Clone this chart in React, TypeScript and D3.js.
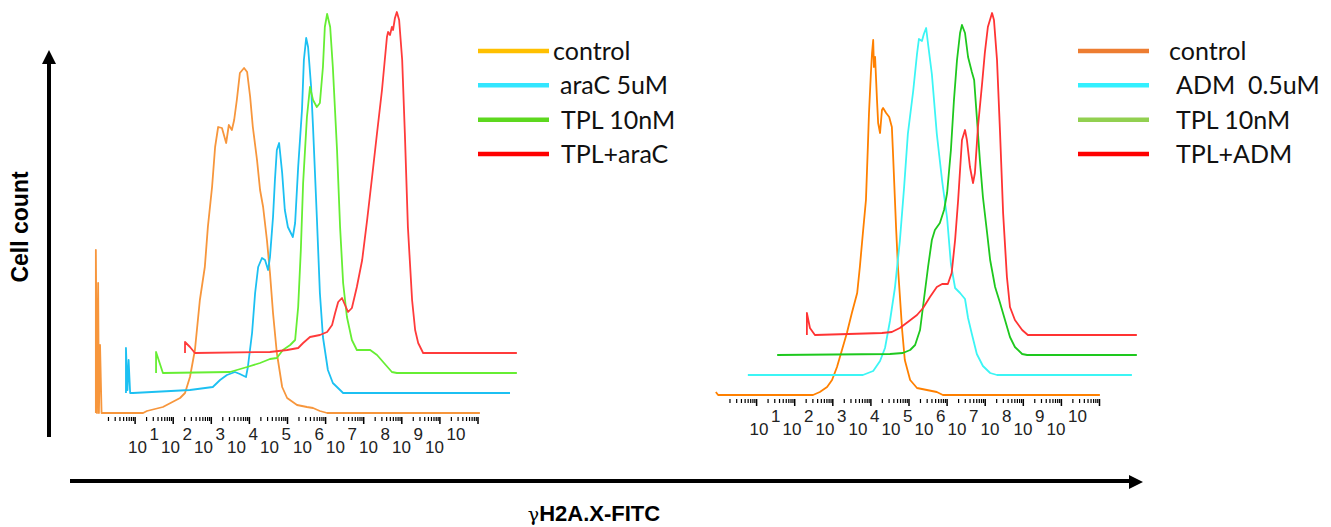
import * as d3 from 'd3'

// tick-label exponents for the log axis (10^1 ... 10^10)
const exponents = d3.range(1, 11)

const legendLeft = ['control', 'araC 5uM', 'TPL 10nM', 'TPL+araC']
const legendRight = ['control', 'ADM  0.5uM', 'TPL 10nM', 'TPL+ADM']

// points are [log10 intensity read on the axis, count above the curve's own baseline]
const araControl: [number, number][] = [
  [-0.03, 0], [-0.03, 163], [0.0, 0], [0.03, 130], [0.05, 0], [0.08, 68], [0.12, 0],
  [1.21, 0], [1.31, 2], [1.73, 6], [2.18, 15], [2.31, 20], [2.44, 36], [2.57, 63],
  [2.7, 113], [2.83, 146], [2.91, 186], [3.02, 226], [3.1, 266], [3.18, 286], [3.28, 285],
  [3.39, 270], [3.46, 288], [3.54, 283], [3.6, 293], [3.67, 313], [3.75, 340], [3.86, 345],
  [3.94, 341], [4.02, 316], [4.09, 286], [4.2, 253], [4.28, 223], [4.36, 206], [4.46, 173],
  [4.54, 140], [4.62, 100], [4.72, 60], [4.86, 26], [4.99, 15], [5.25, 8], [5.51, 6],
  [5.67, 5], [5.85, 2], [6.04, 0], [10.05, 0],
]
const araC5: [number, number][] = [
  [0.76, 0], [0.76, 45], [0.8, 3], [0.83, 33], [0.87, 0], [0.94, 0], [2.44, 3], [3.04, 6],
  [3.23, 13], [3.41, 18], [3.62, 21], [3.75, 19], [3.91, 16], [3.96, 26], [4.07, 60],
  [4.15, 100], [4.23, 126], [4.33, 135], [4.41, 133], [4.49, 123], [4.54, 136], [4.62, 176],
  [4.67, 213], [4.72, 243], [4.78, 250], [4.86, 220], [4.93, 183], [5.01, 166], [5.14, 156],
  [5.2, 170], [5.28, 226], [5.38, 283], [5.43, 333], [5.49, 355], [5.54, 346], [5.62, 306],
  [5.67, 266], [5.77, 176], [5.85, 100], [5.93, 56], [6.06, 23], [6.19, 10], [6.46, 0],
  [10.84, 0],
]
const araTpl: [number, number][] = [
  [1.55, 0], [1.55, 21], [1.73, 0], [3.49, 1], [3.94, 6], [4.28, 10], [4.54, 14], [4.72, 15],
  [4.88, 23], [5.07, 28], [5.2, 33], [5.28, 66], [5.35, 123], [5.41, 190], [5.51, 256],
  [5.59, 286], [5.67, 273], [5.77, 266], [5.85, 270], [5.93, 306], [5.98, 346], [6.04, 359],
  [6.12, 346], [6.19, 306], [6.3, 223], [6.38, 146], [6.46, 90], [6.56, 56], [6.69, 33],
  [6.82, 23], [7.17, 23], [7.35, 18], [7.51, 11], [7.74, 1], [7.87, 0], [11.02, 0],
]
const araTplAraC: [number, number][] = [
  [2.31, 0], [2.31, 11], [2.44, 6], [2.57, 0], [4.54, 1], [4.99, 3], [5.28, 5], [5.41, 10],
  [5.59, 16], [5.85, 18], [6.04, 21], [6.17, 28], [6.25, 40], [6.33, 51], [6.43, 55],
  [6.51, 48], [6.59, 41], [6.69, 45], [6.82, 66], [6.96, 93], [7.09, 133], [7.22, 176],
  [7.35, 220], [7.48, 263], [7.61, 316], [7.64, 321], [7.69, 318], [7.74, 326], [7.77, 323],
  [7.82, 335], [7.87, 341], [7.93, 333], [8.01, 293], [8.08, 220], [8.16, 126], [8.27, 53],
  [8.35, 23], [8.43, 10], [8.56, 0], [11.02, 0],
]

const admControl: [number, number][] = [
  [-0.07, 3], [-0.01, 0], [2.48, 0], [2.66, 3], [2.85, 8], [2.98, 15], [3.11, 28], [3.24, 45],
  [3.37, 62], [3.5, 82], [3.64, 102], [3.71, 128], [3.79, 162], [3.87, 195], [3.92, 248],
  [3.95, 282], [4.0, 322], [4.03, 342], [4.06, 355], [4.08, 328], [4.11, 338], [4.16, 295],
  [4.19, 272], [4.24, 262], [4.29, 285], [4.32, 287], [4.4, 282], [4.48, 278], [4.55, 268],
  [4.58, 242], [4.66, 168], [4.71, 128], [4.82, 65], [4.89, 35], [5.03, 15], [5.21, 7],
  [5.47, 5], [5.73, 3], [5.89, 0], [10.01, 0],
]
const adm05: [number, number][] = [
  [0.77, 0], [3.79, 0], [4.06, 4], [4.24, 14], [4.37, 27], [4.5, 54], [4.63, 87], [4.76, 134],
  [4.87, 187], [4.97, 241], [5.11, 284], [5.21, 321], [5.26, 336], [5.34, 334], [5.39, 341],
  [5.45, 347], [5.5, 331], [5.6, 301], [5.73, 241], [5.87, 194], [6.0, 157], [6.1, 111],
  [6.21, 87], [6.34, 82], [6.47, 76], [6.55, 57], [6.65, 41], [6.78, 21], [6.94, 9],
  [7.13, 2], [7.31, 0], [10.85, 0],
]
const admTpl: [number, number][] = [
  [1.54, 0], [4.5, 1], [4.84, 2], [5.03, 5], [5.16, 10], [5.29, 25], [5.39, 55], [5.5, 88],
  [5.6, 115], [5.68, 125], [5.81, 132], [5.92, 145], [6.0, 162], [6.1, 205], [6.18, 255],
  [6.26, 295], [6.34, 322], [6.39, 330], [6.47, 322], [6.55, 298], [6.65, 283], [6.71, 275],
  [6.78, 238], [6.86, 195], [6.94, 158], [7.05, 122], [7.13, 95], [7.26, 68], [7.39, 52],
  [7.52, 35], [7.65, 18], [7.78, 8], [7.97, 1], [8.1, 0], [10.98, 0],
]
const admTplAdm: [number, number][] = [
  [2.32, 0], [2.32, 22], [2.4, 7], [2.53, 0], [4.29, 2], [4.55, 3], [4.76, 7], [4.97, 13],
  [5.21, 20], [5.37, 27], [5.55, 38], [5.73, 48], [5.87, 51], [6.02, 51], [6.12, 62],
  [6.21, 95], [6.29, 135], [6.39, 195], [6.47, 205], [6.52, 195], [6.6, 168], [6.68, 152],
  [6.73, 162], [6.81, 208], [6.92, 252], [6.99, 282], [7.07, 308], [7.18, 322], [7.23, 315],
  [7.31, 275], [7.39, 202], [7.47, 122], [7.57, 58], [7.65, 28], [7.78, 15], [7.97, 5],
  [8.12, 0], [10.98, 0],
]

const DECADE = 38.1
const OFFSET_Y = 20

type Pt = [number, number]

function Histos({ x0, base, series, colors }: { x0: number; base: number; series: Pt[][]; colors: string[] }) {
  const x = d3.scaleLog().domain([1, 1e10]).range([x0, x0 + DECADE * 10])
  return (
    <g>
      {series.map((pts, i) => {
        const y = d3.scaleLinear().domain([0, 400]).range([base - i * OFFSET_Y, base - i * OFFSET_Y - 400])
        const line = d3.line<Pt>().x((d) => x(10 ** d[0])).y((d) => y(d[1]))
        return <path key={i} d={line(pts) ?? ''} fill="none" stroke={colors[i]} strokeWidth={1.8} strokeLinejoin="round" />
      })}
    </g>
  )
}

function LogAxis({ x0, top }: { x0: number; top: number }) {
  const x = d3.scaleLog().domain([1, 1e10]).range([x0, x0 + DECADE * 10])
  const minor = d3.range(0, 10).flatMap((k) => d3.range(2, 10).map((m) => m * 10 ** k))
  const major = exponents.map((k) => 10 ** k)
  // the printed labels sit on their own, slightly tighter spacing
  const lx = d3.scalePoint<number>().domain(exponents).range([x0 + 31, x0 + 328])
  return (
    <g>
      {minor.map((v) => (
        <line key={'m' + v} x1={x(v)} x2={x(v)} y1={top} y2={top + 4} stroke="#000" strokeWidth={1.2} />
      ))}
      {major.map((v) => (
        <line key={'M' + v} x1={x(v)} x2={x(v)} y1={top} y2={top + 7} stroke="#000" strokeWidth={1.5} />
      ))}
      {exponents.map((k) => (
        <g key={k} fontFamily="'Liberation Sans', Arial, sans-serif" fontSize={17} fill="#222">
          <text x={lx(k)} y={top + 36}>10</text>
          <text x={(lx(k) ?? 0) + 21.5} y={top + 23}>{k}</text>
        </g>
      ))}
    </g>
  )
}

function Legend({ x, textX, labels, colors }: { x: number; textX: number[]; labels: string[]; colors: string[] }) {
  const y = d3.scalePoint<number>().domain(d3.range(labels.length)).range([51, 154])
  return (
    <g fontFamily="Lato, 'Open Sans', sans-serif" fontSize={25} fill="#111">
      {labels.map((t, i) => (
        <g key={t}>
          <line x1={x} x2={x + 71} y1={y(i)} y2={y(i)} stroke={colors[i]} strokeWidth={4.5} />
          <text x={textX[i]} y={(y(i) ?? 0) + 9} style={{ whiteSpace: 'pre' }}>{t}</text>
        </g>
      ))}
    </g>
  )
}

export default function App() {
  return (
    <svg width={1331} height={527} style={{ position: 'absolute', left: 0, top: 0, background: '#fff' }}>
      <rect width={1331} height={527} fill="#fff" />
      {/* axes arrows */}
      <line x1={49} x2={49} y1={437} y2={60} stroke="#000" strokeWidth={4} />
      <polygon points="49,50 42,64 56,64" fill="#000" />
      <line x1={70} x2={1132} y1={481} y2={481} stroke="#000" strokeWidth={4} />
      <polygon points="1143,482 1129,475 1129,489" fill="#000" />
      <text transform="translate(28,227) rotate(-90)" textAnchor="middle" fontFamily="'Liberation Sans', Arial, sans-serif" fontWeight="bold" fontSize={23}>
        Cell count
      </text>
      <text x={594} y={521} textAnchor="middle" fontFamily="'Liberation Sans', Arial, sans-serif" fontWeight="bold" fontSize={22}>
        <tspan fontFamily="'DejaVu Serif', serif" fontWeight="normal" fontSize={19}>γ</tspan>H2A.X-FITC
      </text>

      <Histos x0={97} base={413} series={[araControl, araC5, araTpl, araTplAraC]} colors={['#F7963C', '#1CC0F2', '#66EE33', '#FF3B3B']} />
      <LogAxis x0={97} top={417} />
      <Legend x={478} textX={[553, 560, 561, 561]} labels={legendLeft} colors={['#FFC000', '#33E6FF', '#5DD81E', '#FF0000']} />

      <Histos x0={718.5} base={395} series={[admControl, adm05, admTpl, admTplAdm]} colors={['#FF8000', '#3CF5F5', '#1EC81E', '#FF3333']} />
      <LogAxis x0={718.5} top={399} />
      <Legend x={1078} textX={[1169, 1176, 1176, 1176]} labels={legendRight} colors={['#ED7D31', '#33F0FF', '#92D050', '#FF0000']} />
    </svg>
  )
}
